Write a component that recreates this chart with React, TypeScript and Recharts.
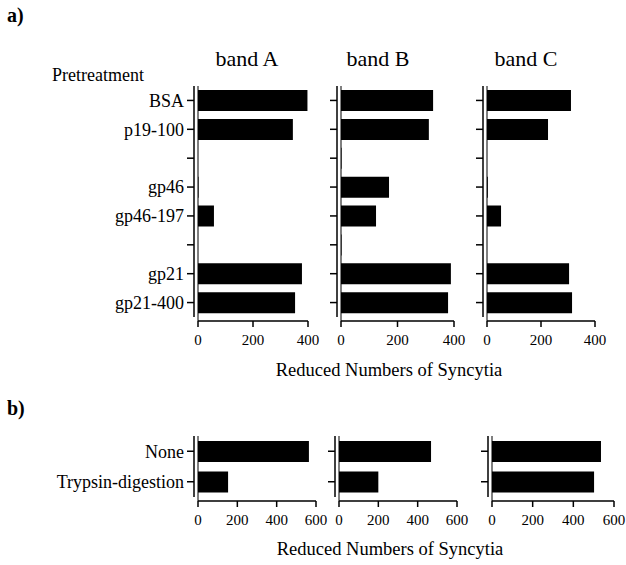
import { BarChart, Bar, XAxis, YAxis, ReferenceLine } from 'recharts';

// a) pretreatment of the peptides, three gel bands
const pretreatments = ['BSA', 'p19-100', '', 'gp46', 'gp46-197', '', 'gp21', 'gp21-400'];
const bandA = [398, 345, 0, 2, 58, 0, 378, 353];
const bandB = [326, 311, 2, 170, 124, 2, 389, 379];
const bandC = [311, 226, 0, 3, 52, 0, 304, 315];
const ticksA = [0, 200, 400];

// b) trypsin digestion
const digestions = ['None', 'Trypsin-digestion'];
const digestA = [564, 153];
const digestB = [468, 200];
const digestC = [536, 502];
const ticksB = [0, 200, 400, 600];

const serif = '"Liberation Serif", "Times New Roman", serif';

interface PanelProps {
  cats: string[];
  values: number[];
  ticks: number[];
  axisX: number; // x of the y-axis line
  zeroX: number; // x of value 0
  maxX: number; // x of the last tick
  top: number; // top of the category band
  axisY: number; // y of the x-axis line
  showLabels?: boolean;
}

function Panel({ cats, values, ticks, axisX, zeroX, maxX, top, axisY, showLabels }: PanelProps) {
  const data = cats.map((name, i) => ({ name, v: values[i] }));
  const yw = showLabels ? axisX : 16;
  const left = axisX - yw;
  const pad = zeroX - axisX;
  const right = 12;
  const mTop = 4;
  const plotH = axisY - top;
  const width = yw + (maxX - axisX) + right;
  const height = mTop + plotH + 34;

  return (
    <div style={{ position: 'absolute', left, top: top - mTop }}>
      <BarChart
        width={width}
        height={height}
        data={data}
        layout="vertical"
        margin={{ top: mTop, right, bottom: 0, left: 0 }}
      >
        <XAxis
          type="number"
          domain={[0, ticks[ticks.length - 1]]}
          ticks={ticks}
          padding={{ left: pad, right: 0 }}
          tickSize={6}
          tickMargin={7}
          height={34}
          tickLine={{ stroke: '#000', strokeWidth: 1.5 }}
          axisLine={{ stroke: '#000', strokeWidth: 1.5, strokeDasharray: `0 ${pad} 1000` }}
          tick={{ fill: '#000', fontSize: 15, fontFamily: serif }}
        />
        <YAxis
          type="category"
          dataKey="name"
          width={yw}
          interval={0}
          padding={{ top: 0, bottom: 4 }}
          tickSize={7}
          tickMargin={3}
          tickLine={{ stroke: '#000', strokeWidth: 1.5 }}
          axisLine={{ stroke: '#000', strokeWidth: 1.5, strokeDasharray: `${plotH - 4} 20` }}
          tick={{ fill: '#000', fontSize: 18, fontFamily: serif }}
          tickFormatter={showLabels ? undefined : () => ''}
        />
        <ReferenceLine x={0} stroke="#000" strokeWidth={1} />
        <Bar dataKey="v" fill="#000" barSize={21} isAnimationActive={false} />
      </BarChart>
    </div>
  );
}

export default function App() {
  return (
    <div style={{ position: 'absolute', left: 0, top: 0, width: 626, height: 565, background: '#fff', fontFamily: serif }}>
      <svg width={626} height={565} style={{ position: 'absolute', left: 0, top: 0 }}>
        <g fontFamily={serif} fill="#000">
          <text x={7} y={15} fontSize={20} fontWeight="bold" dominantBaseline="central">a)</text>
          <text x={7} y={408} fontSize={20} fontWeight="bold" dominantBaseline="central">b)</text>
          <text x={247} y={58} fontSize={22} textAnchor="middle" dominantBaseline="central">band A</text>
          <text x={378} y={58} fontSize={22} textAnchor="middle" dominantBaseline="central">band B</text>
          <text x={526} y={58} fontSize={22} textAnchor="middle" dominantBaseline="central">band C</text>
          <text x={52} y={75} fontSize={18} dominantBaseline="central">Pretreatment</text>
          <text x={389} y={370} fontSize={18.5} textAnchor="middle" dominantBaseline="central">Reduced Numbers of Syncytia</text>
          <text x={390} y={549} fontSize={18.5} textAnchor="middle" dominantBaseline="central">Reduced Numbers of Syncytia</text>
        </g>
      </svg>

      <Panel cats={pretreatments} values={bandA} ticks={ticksA} axisX={194} zeroX={198} maxX={308} top={86} axisY={321} showLabels />
      <Panel cats={pretreatments} values={bandB} ticks={ticksA} axisX={337} zeroX={341} maxX={454} top={86} axisY={321} />
      <Panel cats={pretreatments} values={bandC} ticks={ticksA} axisX={483} zeroX={487} maxX={595} top={86} axisY={321} />

      <Panel cats={digestions} values={digestA} ticks={ticksB} axisX={194} zeroX={198} maxX={316} top={436} axisY={501} showLabels />
      <Panel cats={digestions} values={digestB} ticks={ticksB} axisX={335} zeroX={339} maxX={457} top={436} axisY={501} />
      <Panel cats={digestions} values={digestC} ticks={ticksB} axisX={488} zeroX={492} maxX={614} top={436} axisY={501} />
    </div>
  );
}
